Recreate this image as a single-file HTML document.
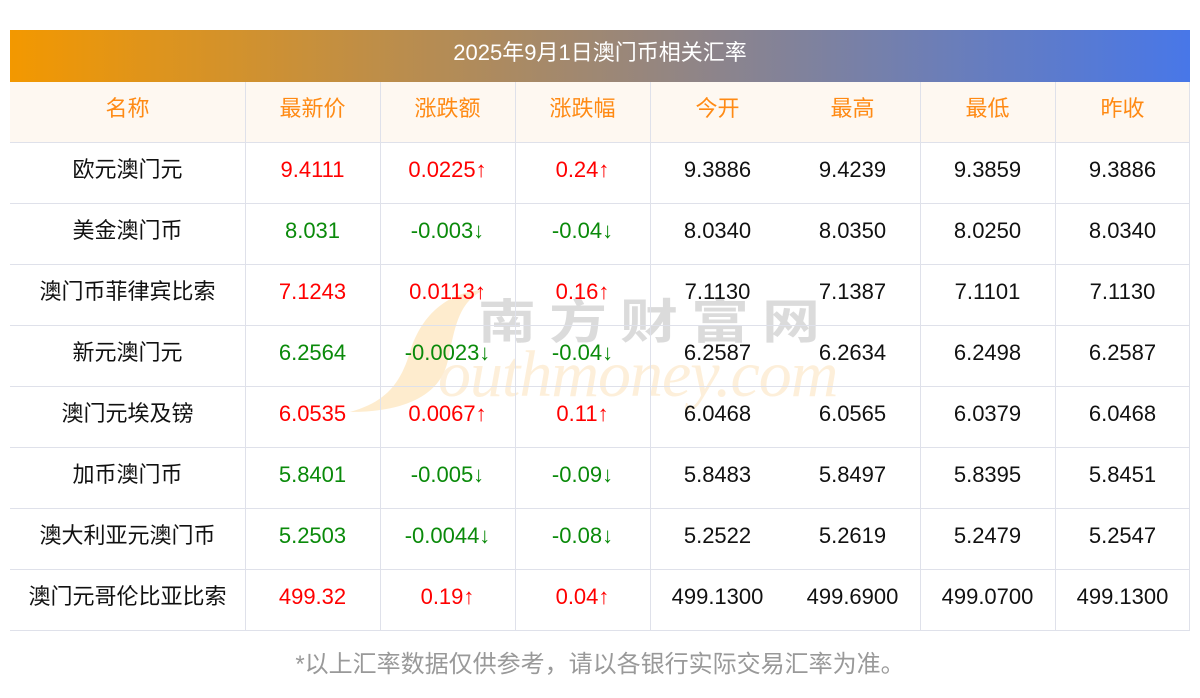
<!DOCTYPE html>
<html>
<head>
<meta charset="utf-8">
<style>
html,body{margin:0;padding:0;background:#fff;}
body{width:1200px;height:698px;position:relative;overflow:hidden;font-family:"Liberation Sans","Noto Sans CJK SC",sans-serif;}
.bar{position:absolute;left:10px;top:30px;width:1180px;height:52px;background:linear-gradient(to right,#f39800,#4877e8);color:#fff;font-size:22px;text-align:center;line-height:46px;}
.hdr{position:absolute;left:10px;top:82px;width:1180px;height:60px;background:#fef8f1;}
.hl{position:absolute;left:10px;width:1180px;height:1px;background:#dfe1ea;}
.vl{position:absolute;top:82px;width:1px;height:549px;background:#dfe1ea;}
.c{position:absolute;height:24px;line-height:24px;font-size:22px;text-align:center;white-space:nowrap;color:#111;}
.h{color:#ff8a14;}
.r{color:#ff0000;}
.g{color:#0a8a0a;}
.foot{position:absolute;left:0;width:1200px;top:650px;text-align:center;font-size:24px;color:#999;line-height:30px;}
.wm1{position:absolute;left:478px;top:292px;font-size:58px;letter-spacing:13px;color:#d8d8d8;opacity:.9;white-space:nowrap;font-family:"Noto Sans CJK SC",sans-serif;font-weight:bold;line-height:64px;transform:scaleY(0.82);transform-origin:left top;}
.wm2{position:absolute;left:438px;top:340px;font-size:66px;font-style:italic;color:#fdecd2;opacity:.8;white-space:nowrap;font-family:"Liberation Serif",serif;line-height:70px;letter-spacing:-1px;}
</style>
</head>
<body>
<div class="bar">2025年9月1日澳门币相关汇率</div>
<div class="hdr"></div>

<svg style="position:absolute;left:0;top:0" width="1200" height="698">
<path d="M484 290 C445 292 420 318 410 352 C400 385 385 402 350 412 C400 412 440 398 448 360 C455 328 458 302 484 290 Z" fill="#fde5bd" opacity="0.75"/>
</svg>
<div class="wm1">南方财富网</div>
<div class="wm2">outhmoney.com</div>

<div class="hl" style="top:142px"></div>
<div class="hl" style="top:203px"></div>
<div class="hl" style="top:264px"></div>
<div class="hl" style="top:325px"></div>
<div class="hl" style="top:386px"></div>
<div class="hl" style="top:447px"></div>
<div class="hl" style="top:508px"></div>
<div class="hl" style="top:569px"></div>
<div class="hl" style="top:630px"></div>

<div class="vl" style="left:245px"></div>
<div class="vl" style="left:380px"></div>
<div class="vl" style="left:515px"></div>
<div class="vl" style="left:650px"></div>
<div class="vl" style="left:920px"></div>
<div class="vl" style="left:1055px"></div>
<div class="vl" style="left:1189px"></div>

<!-- header -->
<div class="c h" style="left:10px;width:235px;top:97px">名称</div>
<div class="c h" style="left:245px;width:135px;top:97px">最新价</div>
<div class="c h" style="left:380px;width:135px;top:97px">涨跌额</div>
<div class="c h" style="left:515px;width:135px;top:97px">涨跌幅</div>
<div class="c h" style="left:650px;width:135px;top:97px">今开</div>
<div class="c h" style="left:785px;width:135px;top:97px">最高</div>
<div class="c h" style="left:920px;width:135px;top:97px">最低</div>
<div class="c h" style="left:1055px;width:135px;top:97px">昨收</div>

<!-- row 1 -->
<div class="c" style="left:10px;width:235px;top:158px">欧元澳门元</div>
<div class="c r" style="left:245px;width:135px;top:158px">9.4111</div>
<div class="c r" style="left:380px;width:135px;top:158px">0.0225↑</div>
<div class="c r" style="left:515px;width:135px;top:158px">0.24↑</div>
<div class="c" style="left:650px;width:135px;top:158px">9.3886</div>
<div class="c" style="left:785px;width:135px;top:158px">9.4239</div>
<div class="c" style="left:920px;width:135px;top:158px">9.3859</div>
<div class="c" style="left:1055px;width:135px;top:158px">9.3886</div>

<!-- row 2 -->
<div class="c" style="left:10px;width:235px;top:219px">美金澳门币</div>
<div class="c g" style="left:245px;width:135px;top:219px">8.031</div>
<div class="c g" style="left:380px;width:135px;top:219px">-0.003↓</div>
<div class="c g" style="left:515px;width:135px;top:219px">-0.04↓</div>
<div class="c" style="left:650px;width:135px;top:219px">8.0340</div>
<div class="c" style="left:785px;width:135px;top:219px">8.0350</div>
<div class="c" style="left:920px;width:135px;top:219px">8.0250</div>
<div class="c" style="left:1055px;width:135px;top:219px">8.0340</div>

<!-- row 3 -->
<div class="c" style="left:10px;width:235px;top:280px">澳门币菲律宾比索</div>
<div class="c r" style="left:245px;width:135px;top:280px">7.1243</div>
<div class="c r" style="left:380px;width:135px;top:280px">0.0113↑</div>
<div class="c r" style="left:515px;width:135px;top:280px">0.16↑</div>
<div class="c" style="left:650px;width:135px;top:280px">7.1130</div>
<div class="c" style="left:785px;width:135px;top:280px">7.1387</div>
<div class="c" style="left:920px;width:135px;top:280px">7.1101</div>
<div class="c" style="left:1055px;width:135px;top:280px">7.1130</div>

<!-- row 4 -->
<div class="c" style="left:10px;width:235px;top:341px">新元澳门元</div>
<div class="c g" style="left:245px;width:135px;top:341px">6.2564</div>
<div class="c g" style="left:380px;width:135px;top:341px">-0.0023↓</div>
<div class="c g" style="left:515px;width:135px;top:341px">-0.04↓</div>
<div class="c" style="left:650px;width:135px;top:341px">6.2587</div>
<div class="c" style="left:785px;width:135px;top:341px">6.2634</div>
<div class="c" style="left:920px;width:135px;top:341px">6.2498</div>
<div class="c" style="left:1055px;width:135px;top:341px">6.2587</div>

<!-- row 5 -->
<div class="c" style="left:10px;width:235px;top:402px">澳门元埃及镑</div>
<div class="c r" style="left:245px;width:135px;top:402px">6.0535</div>
<div class="c r" style="left:380px;width:135px;top:402px">0.0067↑</div>
<div class="c r" style="left:515px;width:135px;top:402px">0.11↑</div>
<div class="c" style="left:650px;width:135px;top:402px">6.0468</div>
<div class="c" style="left:785px;width:135px;top:402px">6.0565</div>
<div class="c" style="left:920px;width:135px;top:402px">6.0379</div>
<div class="c" style="left:1055px;width:135px;top:402px">6.0468</div>

<!-- row 6 -->
<div class="c" style="left:10px;width:235px;top:463px">加币澳门币</div>
<div class="c g" style="left:245px;width:135px;top:463px">5.8401</div>
<div class="c g" style="left:380px;width:135px;top:463px">-0.005↓</div>
<div class="c g" style="left:515px;width:135px;top:463px">-0.09↓</div>
<div class="c" style="left:650px;width:135px;top:463px">5.8483</div>
<div class="c" style="left:785px;width:135px;top:463px">5.8497</div>
<div class="c" style="left:920px;width:135px;top:463px">5.8395</div>
<div class="c" style="left:1055px;width:135px;top:463px">5.8451</div>

<!-- row 7 -->
<div class="c" style="left:10px;width:235px;top:524px">澳大利亚元澳门币</div>
<div class="c g" style="left:245px;width:135px;top:524px">5.2503</div>
<div class="c g" style="left:380px;width:135px;top:524px">-0.0044↓</div>
<div class="c g" style="left:515px;width:135px;top:524px">-0.08↓</div>
<div class="c" style="left:650px;width:135px;top:524px">5.2522</div>
<div class="c" style="left:785px;width:135px;top:524px">5.2619</div>
<div class="c" style="left:920px;width:135px;top:524px">5.2479</div>
<div class="c" style="left:1055px;width:135px;top:524px">5.2547</div>

<!-- row 8 -->
<div class="c" style="left:10px;width:235px;top:585px">澳门元哥伦比亚比索</div>
<div class="c r" style="left:245px;width:135px;top:585px">499.32</div>
<div class="c r" style="left:380px;width:135px;top:585px">0.19↑</div>
<div class="c r" style="left:515px;width:135px;top:585px">0.04↑</div>
<div class="c" style="left:650px;width:135px;top:585px">499.1300</div>
<div class="c" style="left:785px;width:135px;top:585px">499.6900</div>
<div class="c" style="left:920px;width:135px;top:585px">499.0700</div>
<div class="c" style="left:1055px;width:135px;top:585px">499.1300</div>

<div class="foot">*以上汇率数据仅供参考，请以各银行实际交易汇率为准。</div>
</body>
</html>
